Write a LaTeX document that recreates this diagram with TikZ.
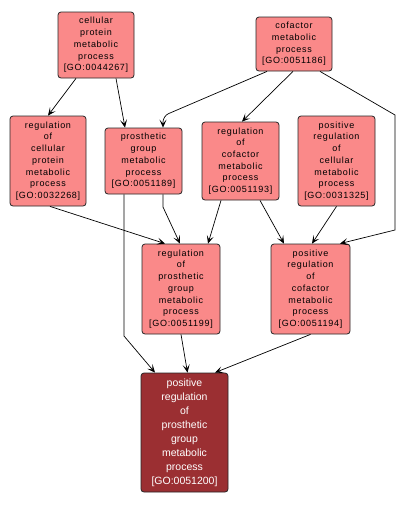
\documentclass[tikz,border=0pt]{standalone}
\usepackage{fontspec}
\newfontfamily\gofont[LetterSpace=8]{Liberation Sans}
\newfontfamily\gofontb{Liberation Sans}
\usetikzlibrary{arrows.meta}
\definecolor{goLight}{RGB}{250,137,137}
\definecolor{goDark}{RGB}{155,47,50}
\begin{document}
\begin{tikzpicture}[x=1pt,y=-1pt,
  term/.style={draw=black!85,line width=0.8pt,fill=goLight,rounded corners=3pt,
    align=center,inner sep=0pt,anchor=center,
    font=\gofont\fontsize{9}{11.7}\selectfont},
  focus/.style={draw=black!85,line width=0.8pt,fill=goDark,rounded corners=3pt,
    align=center,inner sep=0pt,anchor=center,text=white,
    font=\gofontb\fontsize{10.5}{14}\selectfont},
  rel/.style={draw=black,line width=0.7pt,-{Stealth[length=8pt,width=7pt,inset=4pt]}}]
\fill[white] (0,0) rectangle (405,507);
\useasboundingbox (0,0) rectangle (405,507);

\node[term,minimum width=76pt,minimum height=66pt] (A) at (96,45)
  {cellular\\protein\\metabolic\\process\\{[GO:0044267]}};
\node[term,minimum width=76pt,minimum height=54pt] (B) at (294,44)
  {cofactor\\metabolic\\process\\{[GO:0051186]}};
\node[term,minimum width=76pt,minimum height=90pt] (C) at (48,161)
  {regulation\\of\\cellular\\protein\\metabolic\\process\\{[GO:0032268]}};
\node[term,minimum width=77pt,minimum height=66pt] (D) at (143.5,161)
  {prosthetic\\group\\metabolic\\process\\{[GO:0051189]}};
\node[term,minimum width=77pt,minimum height=78pt] (E) at (240.5,161)
  {regulation\\of\\cofactor\\metabolic\\process\\{[GO:0051193]}};
\node[term,minimum width=77pt,minimum height=90pt] (F) at (336.5,161)
  {positive\\regulation\\of\\cellular\\metabolic\\process\\{[GO:0031325]}};
\node[term,minimum width=78pt,minimum height=90pt] (G) at (181,289)
  {regulation\\of\\prosthetic\\group\\metabolic\\process\\{[GO:0051199]}};
\node[term,minimum width=79pt,minimum height=90pt] (H) at (310.5,289)
  {positive\\regulation\\of\\cofactor\\metabolic\\process\\{[GO:0051194]}};
\node[focus,minimum width=87pt,minimum height=119pt] (I) at (184.5,432.5)
  {positive\\regulation\\of\\prosthetic\\group\\metabolic\\process\\{[GO:0051200]}};

\draw[rel] ([xshift=-20]A.south) -- (C.north);
\draw[rel] ([xshift=20]A.south) -- ([xshift=-18.5]D.north);
\draw[rel,rounded corners=6pt] ([xshift=-27]B.south) -- (163,116) -- ([xshift=19.5]D.north);
\draw[rel] ([xshift=-1]B.south) -- ([xshift=1.5]E.north);
\draw[rel] ([xshift=26]B.south) -- (395,115) -- (395,230) -- ([xshift=29.5]H.north);
\draw[rel] ([xshift=2]C.south) -- ([xshift=-16]G.north);
\draw[rel] ([xshift=-19.5]D.south) -- (124,336) -- ([xshift=-29.5]I.north);
\draw[rel] ([xshift=19.5]D.south) -- (163,207) -- ([xshift=-1]G.north);
\draw[rel] ([xshift=-19.5]E.south) -- ([xshift=27]G.north);
\draw[rel] ([xshift=19.5]E.south) -- ([xshift=-26.5]H.north);
\draw[rel] (F.south) -- ([xshift=1.5]H.north);
\draw[rel] (G.south) -- ([xshift=3]I.north);
\draw[rel] (H.south) -- ([xshift=30.5]I.north);
\end{tikzpicture}
\end{document}
